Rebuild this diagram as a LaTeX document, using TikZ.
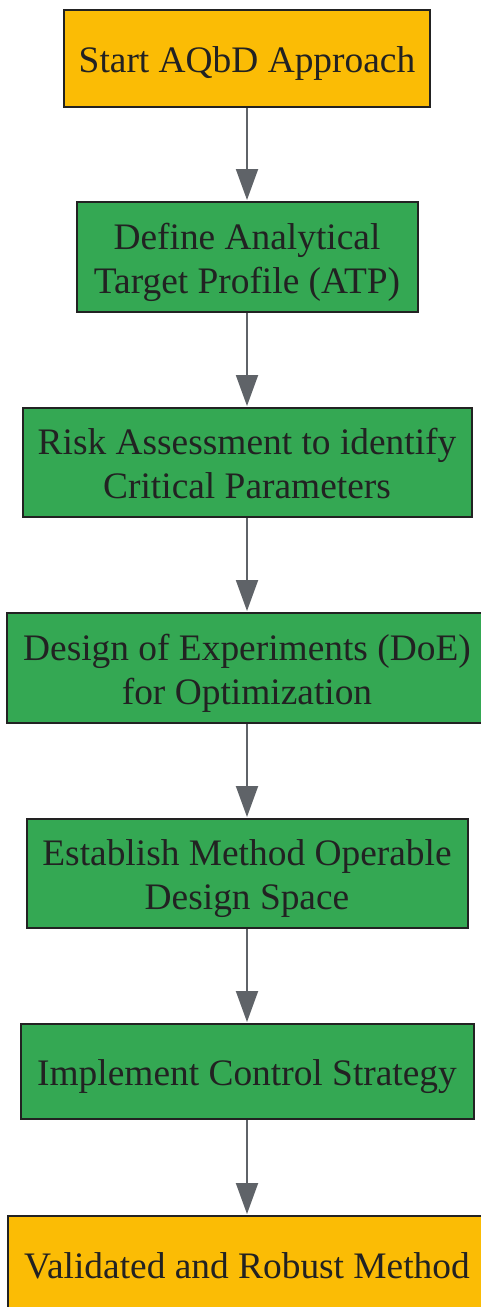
\documentclass[tikz,border=0pt]{standalone}
\usepackage{fontspec}
\setmainfont{Liberation Serif}
\usetikzlibrary{arrows.meta}
\definecolor{startyellow}{HTML}{FBBC05}
\definecolor{stepgreen}{HTML}{34A853}
\definecolor{borderdark}{HTML}{222222}
\definecolor{arrowgray}{HTML}{5F6368}
\definecolor{textdark}{HTML}{222222}
\newcommand\mytopstrut{\rule{0pt}{37pt}}
\newcommand\mybotstrut{\rule[-8.6pt]{0pt}{8.6pt}}
\tikzset{
  box/.style={draw=borderdark, line width=2pt, inner sep=0pt, align=center,
    text=textdark, font=\fontsize{37.4}{44}\selectfont},
  terminal/.style={box, fill=startyellow},
  stepbox/.style={box, fill=stepgreen},
  flow/.style={draw=arrowgray, line width=2pt,
    -{Triangle[length=31pt, width=22pt]}, shorten >=1pt},
}
\begin{document}
\begin{tikzpicture}[x=1pt,y=-1pt]
\useasboundingbox (0,0) rectangle (481,1307);
\clip (0,0) rectangle (481,1307);
\node[terminal, minimum width=366pt, minimum height=97pt] (n1) at (247,58.5) {\mytopstrut Start AQbD Approach\mybotstrut};
\node[stepbox, minimum width=341pt, minimum height=110pt] (n2) at (247,257) {\mytopstrut Define Analytical\\Target Profile (ATP)\mybotstrut};
\node[stepbox, minimum width=449pt, minimum height=109pt] (n3) at (247,462.5) {\mytopstrut Risk Assessment to identify\\Critical Parameters\mybotstrut};
\node[stepbox, minimum width=480pt, minimum height=110pt] (n4) at (247,668) {\mytopstrut Design of Experiments (DoE)\\for Optimization\mybotstrut};
\node[stepbox, minimum width=441pt, minimum height=109pt] (n5) at (247,873.5) {\mytopstrut Establish Method Operable\\Design Space\mybotstrut};
\node[stepbox, minimum width=453pt, minimum height=95pt] (n6) at (247,1071.5) {\mytopstrut Implement Control Strategy\mybotstrut};
\node[terminal, minimum width=478pt, minimum height=97pt] (n7) at (247,1264.5) {\mytopstrut Validated and Robust Method\mybotstrut};
\draw[flow] (n1.south) -- (n2.north);
\draw[flow] (n2.south) -- (n3.north);
\draw[flow] (n3.south) -- (n4.north);
\draw[flow] (n4.south) -- (n5.north);
\draw[flow] (n5.south) -- (n6.north);
\draw[flow] (n6.south) -- (n7.north);
\end{tikzpicture}
\end{document}
